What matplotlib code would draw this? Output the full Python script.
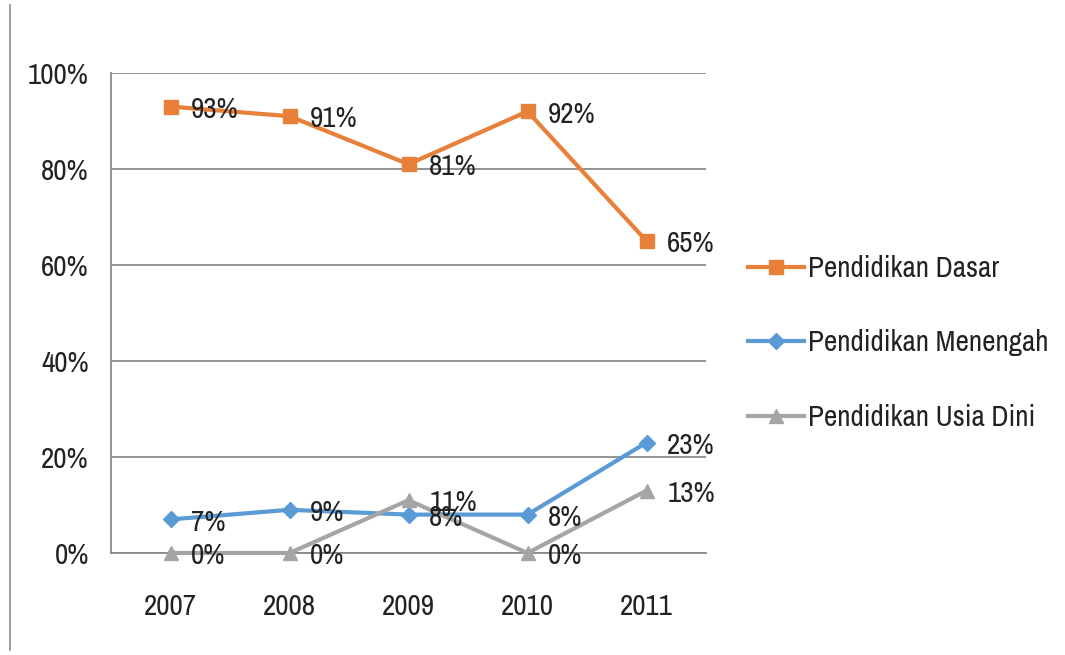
import matplotlib
matplotlib.use("Agg")
import matplotlib.pyplot as plt
from matplotlib import font_manager
from matplotlib.ticker import PercentFormatter
from matplotlib.lines import Line2D

# narrow face for all labels: use a condensed family when one is installed
fonts = font_manager.fontManager.ttflist
narrow = [f.name for f in fonts if 'Narrow' in f.name or 'Condensed' in f.name]
cond = [f.name for f in fonts if f.stretch in ('condensed', 'semi-condensed', 'extra-condensed', 600, 500)]
if narrow:
    plt.rcParams['font.family'] = [narrow[0], 'DejaVu Sans']
elif cond:
    plt.rcParams['font.family'] = [cond[0], 'DejaVu Sans']
    plt.rcParams['font.stretch'] = 'condensed'
else:
    plt.rcParams['font.family'] = ['Liberation Sans', 'DejaVu Sans']

years = ['2007', '2008', '2009', '2010', '2011']
dasar = [93, 91, 81, 92, 65]
menengah = [7, 9, 8, 8, 23]
usia_dini = [0, 0, 11, 0, 13]

series = [
    ('Pendidikan Dasar', dasar, '#E8803A', 's', 10),
    ('Pendidikan Menengah', menengah, '#5B9BD5', 'D', 8),
    ('Pendidikan Usia Dini', usia_dini, '#A5A5A5', '^', 10),
]

FS = 21

fig = plt.figure(figsize=(10.65, 6.55), dpi=100)
ax = fig.add_axes([111 / 1065, 102 / 655, 595 / 1065, 480 / 655])

x = list(range(len(years)))
for name, vals, color, marker, ms in series:
    ax.plot(x, vals, color=color, lw=3, marker=marker, ms=ms,
            markeredgecolor=color, label=name, zorder=3, clip_on=False)
    for xi, v in zip(x, vals):
        ax.annotate(f'{v}%', (xi, v), xytext=(15, -2), textcoords='offset points',
                    ha='left', va='center', fontsize=FS, color='#222222', zorder=4)

ax.set_xlim(-0.5, len(years) - 0.5)
ax.set_ylim(0, 100)
ax.set_yticks(range(0, 101, 20))
ax.yaxis.set_major_formatter(PercentFormatter(decimals=0))
ax.set_xticks(x)
ax.set_xticklabels(years)
ax.tick_params(axis='y', length=0, pad=16, labelsize=FS, labelcolor='#222222')
ax.tick_params(axis='x', length=0, pad=29, labelsize=FS, labelcolor='#222222')
ax.grid(axis='y', color='#8a8a8a', lw=1.3)
ax.set_axisbelow(True)
for side in ['top', 'right']:
    ax.spines[side].set_visible(False)
for side in ['left', 'bottom']:
    ax.spines[side].set_color('#8a8a8a')
    ax.spines[side].set_linewidth(1.3)

handles, labels = ax.get_legend_handles_labels()
fig.legend(handles, labels, loc='center left', bbox_to_anchor=(722 / 1065, 1 - 343 / 655),
           frameon=False, fontsize=FS, handlelength=1.9, handletextpad=0.15,
           labelspacing=1.63, labelcolor='#222222')

# outer frame edge on the left
fig.add_artist(Line2D([10 / 1065, 10 / 1065], [1 - 5 / 655, 1 - 650 / 655],
                      transform=fig.transFigure, color='#8a8a8a', lw=1.2))

fig.savefig('out.png', dpi=100, facecolor='white')
